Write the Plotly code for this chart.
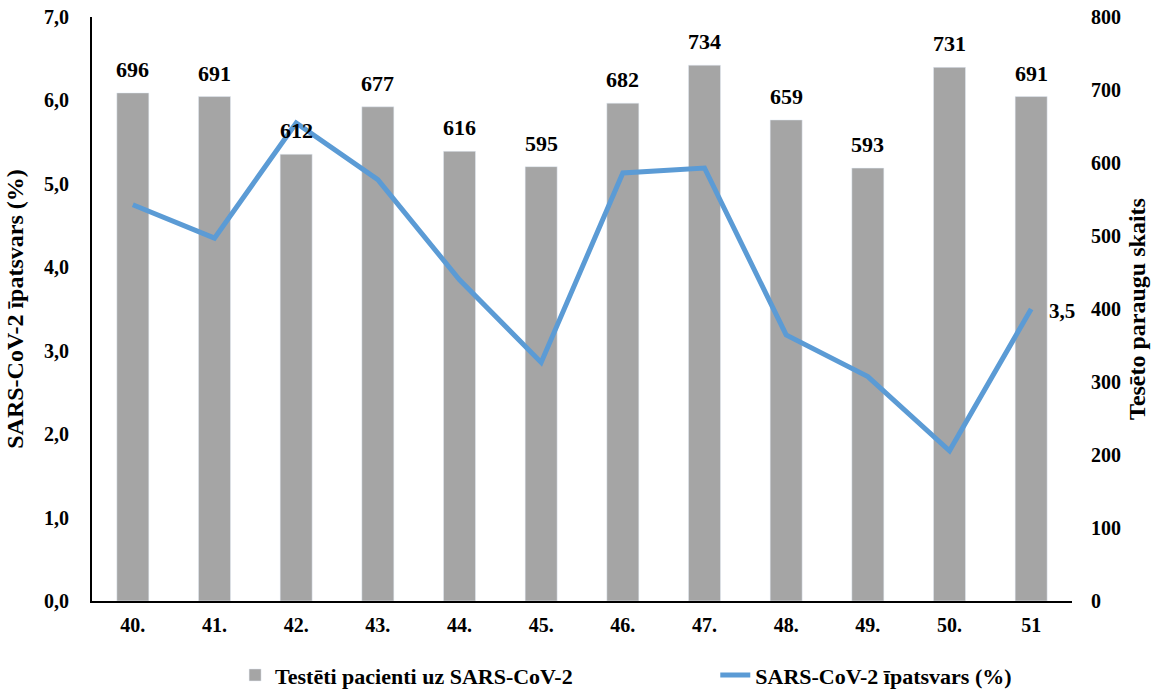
import plotly.graph_objects as go

weeks = ["40.", "41.", "42.", "43.", "44.", "45.", "46.", "47.", "48.", "49.", "50.", "51"]
tested = [696, 691, 612, 677, 616, 595, 682, 734, 659, 593, 731, 691]
share = [4.75, 4.35, 5.73, 5.05, 3.85, 2.86, 5.13, 5.19, 3.19, 2.69, 1.80, 3.50]
left_ticks = [0, 1, 2, 3, 4, 5, 6, 7]
right_ticks = [0, 100, 200, 300, 400, 500, 600, 700, 800]

FONT = "Liberation Serif"
BLACK = "#000000"

def comma(v):
    return f"{v:.1f}".replace(".", ",")

fig = go.Figure()
fig.add_trace(go.Bar(
    x=weeks, y=tested, name="Testēti pacienti uz SARS-CoV-2",
    marker=dict(color="#A5A5A5"), yaxis="y", legend="legend",
))
fig.add_trace(go.Scatter(
    x=weeks, y=share, name="SARS-CoV-2 īpatsvars (%)", mode="lines",
    line=dict(color="#5B9BD5", width=5), yaxis="y2", legend="legend2",
    cliponaxis=False,
))

# annotations on a category axis: x given as category index
annotations = []
for i, v in enumerate(tested):
    annotations.append(dict(
        x=i, y=v, xref="x", yref="y", text=str(v), showarrow=False,
        yanchor="bottom", yshift=9,
        font=dict(family=FONT, size=22, color=BLACK, weight="bold"),
    ))
annotations.append(dict(
    x=len(share) - 1, y=share[-1], xref="x", yref="y2", text=comma(share[-1]),
    showarrow=False, xanchor="left", yanchor="middle", xshift=16, yshift=-2,
    font=dict(family=FONT, size=21, color=BLACK, weight="bold"),
))

legend_font = dict(family=FONT, size=22, color=BLACK, weight="bold")
tick_font = dict(family=FONT, size=20, color=BLACK, weight="bold")
title_font = dict(family=FONT, size=24, color=BLACK, weight="bold")

fig.update_layout(
    width=1165, height=690,
    margin=dict(l=92, r=93, t=17, b=89, autoexpand=False),
    paper_bgcolor="white", plot_bgcolor="white",
    font=dict(family=FONT, size=20, color=BLACK, weight="bold"),
    bargap=0.608,
    showlegend=True,
    annotations=annotations,
    legend=dict(orientation="h", x=0.146, xanchor="left", y=-0.127, yanchor="middle",
                font=legend_font, bgcolor="rgba(0,0,0,0)"),
    legend2=dict(orientation="h", x=0.636, xanchor="left", y=-0.127, yanchor="middle",
                 font=legend_font, bgcolor="rgba(0,0,0,0)"),
    xaxis=dict(type="category", categoryorder="array", categoryarray=weeks,
               range=[-0.5, len(weeks) - 0.5],
               showline=True, linecolor=BLACK, linewidth=2, ticks="",
               showgrid=False, tickfont=tick_font, ticklabelstandoff=5),
    yaxis=dict(range=[0, 800], tickvals=right_ticks, ticktext=[str(v) for v in right_ticks],
               side="right", showline=False, ticks="", showgrid=False, zeroline=False,
               tickfont=tick_font, ticklabelstandoff=18, ticklabeloverflow="allow",
               title=dict(text="Tesēto paraugu skaits", standoff=8, font=title_font)),
    yaxis2=dict(range=[0, 7], tickvals=left_ticks, ticktext=[comma(v) for v in left_ticks],
                side="left", overlaying="y", showline=True, linecolor=BLACK, linewidth=2,
                ticks="", showgrid=False, zeroline=False, ticklabeloverflow="allow",
                tickfont=tick_font, ticklabelstandoff=17,
                title=dict(text="SARS-CoV-2 īpatsvars (%)", standoff=14, font=title_font)),
)
fig.write_html("out.html", config={"displayModeBar": False},
               post_script="document.body.style.margin='0';")
